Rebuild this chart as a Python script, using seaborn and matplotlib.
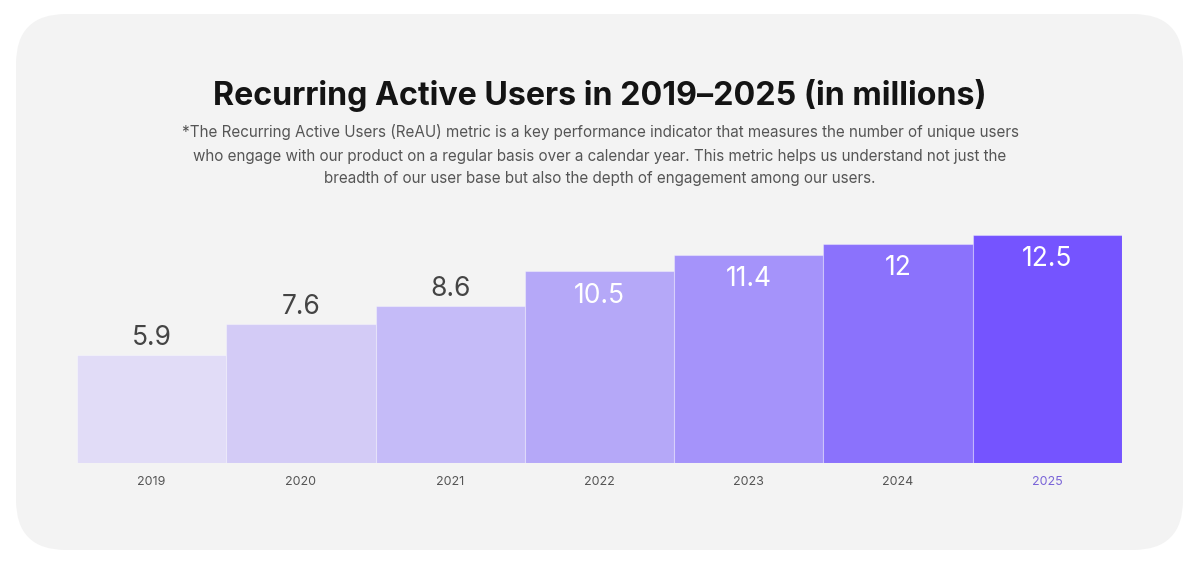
import matplotlib
matplotlib.use("Agg")
import matplotlib.pyplot as plt
from matplotlib.patches import FancyBboxPatch
import seaborn as sns
import pandas as pd

years = ["2019", "2020", "2021", "2022", "2023", "2024", "2025"]
users = [5.9, 7.6, 8.6, 10.5, 11.4, 12, 12.5]
bar_colors = ["#e1dcf7", "#d3cbf6", "#c5bbf8", "#b5a8f8", "#a593fa", "#8b72fc", "#7554ff"]
title = "Recurring Active Users in 2019\u20132025 (in millions)"
subtitle_lines = [
    "*The Recurring Active Users (ReAU) metric is a key performance indicator that measures the number of unique users",
    "who engage with our product on a regular basis over a calendar year. This metric helps us understand not just the",
    "breadth of our user base but also the depth of engagement among our users.",
]

sns.set_theme(style="white")
plt.rcParams["font.family"] = ["Inter", "DejaVu Sans"]

W, H = 1200, 566
fig = plt.figure(figsize=(W / 100, H / 100), dpi=100)
fig.patch.set_facecolor("white")

card = FancyBboxPatch((16, H - 550), 1167, 536,
                      boxstyle="round,pad=0,rounding_size=50",
                      transform=None, facecolor="#f3f3f3", edgecolor="none", zorder=-5)
fig.patches.append(card)

ax = fig.add_axes([77 / W, (H - 463) / H, 1045 / W, 228 / H])
ax.set_facecolor("none")
ax.set_zorder(2)

df = pd.DataFrame({"year": years, "users": users})
sns.barplot(data=df, x="year", y="users", hue="year", palette=bar_colors,
            width=1.0, legend=False, ax=ax, saturation=1,
            edgecolor=(1, 1, 1, 0.35), linewidth=0.8)

ax.set_xlim(-0.5, len(years) - 0.5)
ax.set_ylim(0, 12.5)
for s in ax.spines.values():
    s.set_visible(False)
ax.set_yticks([])
ax.set_xlabel("")
ax.set_ylabel("")
ax.tick_params(axis="x", length=0, pad=9.5, labelsize=9, labelcolor="#555555")
for lbl in ax.get_xticklabels():
    if lbl.get_text() == "2025":
        lbl.set_color("#7a64d8")

for i, v in enumerate(users):
    txt = f"{v:g}"
    if v < 10:
        ax.annotate(txt, (i, v), xytext=(0, 12.5), textcoords="offset points",
                    ha="center", va="center", fontsize=19, color="#444444")
    else:
        ax.annotate(txt, (i, v), xytext=(0, -17.5), textcoords="offset points",
                    ha="center", va="center", fontsize=19, color="white")

fig.text(0.5, 1 - 95 / H, title, ha="center", va="center",
         fontsize=23.2, fontweight="bold", color="#141414")
for y, line in zip([132, 156, 179], subtitle_lines):
    fig.text(0.5, 1 - y / H, line, ha="center", va="center",
             fontsize=10.95, color="#555555")

fig.savefig("out.png", dpi=100, facecolor=fig.get_facecolor())
